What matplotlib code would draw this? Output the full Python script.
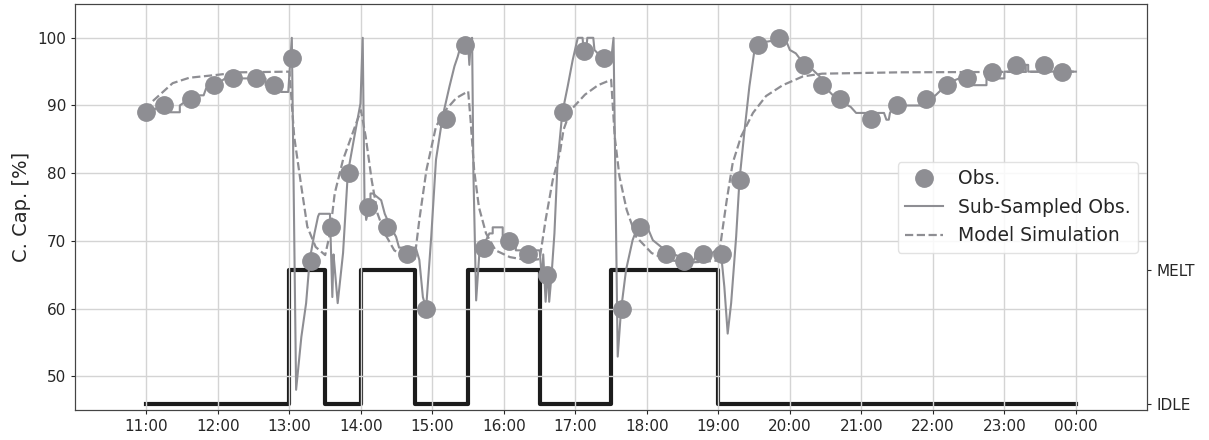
import matplotlib
matplotlib.use('Agg')
import matplotlib.pyplot as plt
import matplotlib.dates as mdates
import pandas as pd

# minutes after 11:00
obs_t = [0, 15, 37, 57, 73, 92, 107, 122, 138, 155, 170, 186, 202, 219, 235, 251,
         267, 283, 304, 320, 336, 350, 367, 384, 399, 414, 436, 451, 467, 483, 498,
         513, 531, 552, 567, 582, 608, 630, 654, 672, 689, 710, 730, 753, 768]
obs_v = [89, 90, 91, 93, 94, 94, 93, 97, 67, 72, 80, 75, 72, 68, 60, 88,
         99, 69, 70, 68, 65, 89, 98, 97, 60, 72, 68, 67, 68, 68, 79,
         99, 100, 96, 93, 91, 88, 90, 91, 93, 94, 95, 96, 96, 95]

sub_t = [0, 15, 20, 20, 28, 28, 36, 45, 48, 50, 57, 62, 66, 100, 100, 113, 113, 119,
         122, 125.6, 130, 134, 137, 141, 144, 145, 154, 156, 157, 158, 160.5, 165, 169,
         174.5, 179.6, 181.5, 183, 184.4, 187, 188, 188, 190, 197, 200, 205, 209.5, 212,
         226, 229, 232, 234.7, 239, 243, 248.6, 254.3, 258.5, 261.2, 264, 270, 271, 272,
         273.3, 274.4, 276.7, 279.4, 283.6, 287.8, 290.6, 290.6, 299, 299, 310, 310, 330,
         332, 333, 335, 337, 338, 340, 342.4, 345, 349, 353.5, 357.7, 362, 366, 367, 369,
         370, 375, 376, 381.6, 390, 392, 395.5, 398.3, 402.5, 408, 412, 415, 420.7, 425,
         432, 440, 451.5, 460, 461, 472.5, 477, 482.3, 485, 487.8, 490.7, 494.9, 497.7,
         502, 506, 510.3, 513, 523, 537, 540, 545, 551, 559, 565, 569, 580, 591, 595.6,
         619, 621, 623, 624, 627.7, 652.8, 661, 667, 672.4, 682, 690, 690, 705, 705, 712,
         712, 720, 720, 738, 738, 740, 740, 780]
sub_v = [89, 90, 90, 89, 89, 90, 91, 91.5, 91.5, 92.5, 93, 93.5, 94, 94, 93, 93, 92, 92,
         100, 48, 55.8, 60.8, 67.2, 71.1, 73.6, 74, 74, 61.7, 68, 66, 60.8, 68.2, 80,
         85.4, 90.3, 100, 76, 73.1, 75, 75, 77, 77, 76, 74, 72, 70.6, 69,
         69, 67.2, 61.7, 60, 70.6, 82, 88.4, 92.8, 95.8, 97.2, 99, 99, 96, 99,
         100, 80, 61.2, 68.2, 69.6, 71.1, 71.1, 72, 72, 70, 70, 68.6, 68.6,
         64, 68, 61, 66, 61, 65, 71.1, 81.5, 88.9, 92.8, 96.7, 100, 100, 98, 98,
         100, 100, 98.2, 97.2, 96.7, 100, 52.9, 59.8, 65.7, 70.1, 72, 72.3, 71.9, 70.1,
         69.1, 68.2, 67.4, 67.2, 68.2, 67.9, 68.5, 68, 63.2, 56.3, 60.8, 70.6, 79,
         86.4, 92.8, 98.2, 99.2, 99.5, 99.5, 98.2, 97.7, 96.3, 95.3, 94.3, 92.8, 90.8, 89.8, 88.9,
         88.9, 87.9, 87.9, 88.9, 90, 90, 91.3, 92.3, 93.3, 94, 94, 93, 93, 95, 95,
         94, 94, 95, 95, 96, 96, 95, 95]

model_t = [0, 5, 22, 36, 58, 78, 120, 124, 130, 135, 142, 150, 154, 158, 165, 173, 180,
           184, 189, 194, 200, 208, 219, 225, 229, 235, 243, 251, 260, 270, 272, 275, 279,
           285, 293, 305, 321, 330, 335, 341, 347, 350, 356, 368, 379, 390, 393, 397, 403,
           411, 424, 437, 454, 467, 480, 483, 487, 492, 499, 509, 520, 534, 551, 567, 632, 780]
model_v = [89.2, 90.6, 93.3, 94.1, 94.5, 94.9, 95, 85.4, 78, 72.1, 69.1, 67.9, 71.1, 77, 82, 85.9, 89.3,
           85.4, 79, 74, 71.1, 68.6, 67.4, 67.3, 73.1, 80.5, 86.9, 89.3, 91.1, 92.1, 87.9, 80.5, 75,
           71.1, 68.6, 67.6, 67.1, 67.3, 73.1, 79, 83, 86.4, 89.3, 91.6, 93, 93.8, 85.4, 79.5, 74.6,
           70.6, 68.2, 67.2, 66.8, 66.9, 67.1, 71.1, 76, 81.5, 85.4, 88.9, 91.4, 93, 94.3, 94.7, 94.9, 95]

state_t = [0, 120, 150, 180, 225, 270, 330, 390, 480, 780]
state_v = [0, 1, 0, 1, 0, 1, 0, 1, 0, 0]
state_names = ['IDLE', 'MELT']

start = pd.Timestamp('2021-01-01 11:00')


def to_time(mins):
    return start + pd.to_timedelta(mins, unit='m')


gray = '#8e8e93'

fig = plt.figure(figsize=(12.09, 4.40), dpi=100)
ax = fig.add_axes([0.062, 0.068, 0.887, 0.923])
ax.set_axisbelow(True)
ax.grid(True, color='#d4d4d4', lw=1.0)

ax.plot(to_time(obs_t), obs_v, 'o', color=gray, ms=12.5, label='Obs.', zorder=3)
ax.plot(to_time(sub_t), sub_v, '-', color=gray, lw=1.5, label='Sub-Sampled Obs.', zorder=3)
ax.plot(to_time(model_t), model_v, '--', color=gray, lw=1.6, label='Model Simulation', zorder=3)

ax.set_ylim(45, 105)
ax.set_yticks([50, 60, 70, 80, 90, 100])
ax.set_xlim(start - pd.Timedelta(hours=1), start + pd.Timedelta(hours=14))
ax.set_xticks([to_time(60 * h) for h in range(14)])
ax.xaxis.set_major_formatter(mdates.DateFormatter('%H:%M'))
ax.set_ylabel('C. Cap. [%]', fontsize=14, color='#262626')
ax.tick_params(labelsize=11, colors='#262626', length=3)
for s in ax.spines.values():
    s.set_color('#444444')

ax2 = ax.twinx()
ax2.plot(to_time(state_t), state_v, color='#1c1c1c', lw=3, drawstyle='steps-post')
ax2.set_ylim(-0.045, 2.985)
ax2.set_yticks([0, 1])
ax2.set_yticklabels(state_names)
ax2.tick_params(labelsize=11, colors='#262626', length=3)
for s in ax2.spines.values():
    s.set_color('#444444')

leg = ax.legend(loc='upper right', bbox_to_anchor=(0.991, 0.611), borderaxespad=0,
                fontsize=13.5, framealpha=0.85, edgecolor='#dddddd')
for txt in leg.get_texts():
    txt.set_color('#262626')
leg.set_zorder(10)
ax.set_zorder(ax2.get_zorder() + 1)
ax.patch.set_visible(False)

fig.savefig('out.png', dpi=100)
